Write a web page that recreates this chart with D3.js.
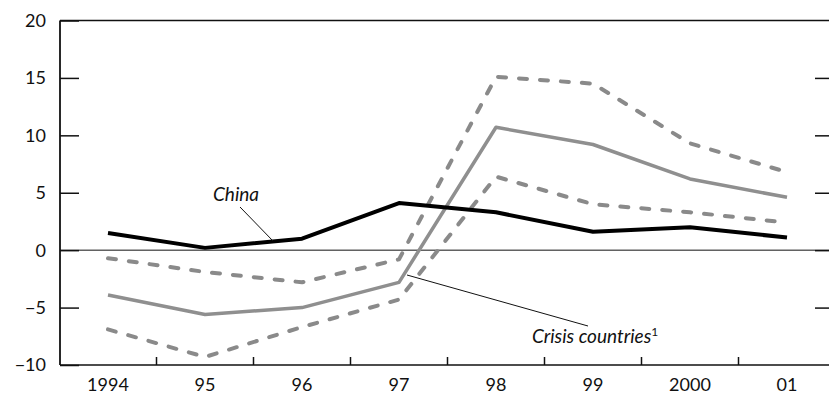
<!DOCTYPE html>
<html>
<head>
<meta charset="utf-8">
<script src="https://cdn.jsdelivr.net/npm/d3@7/dist/d3.min.js"></script>
<style>
  body { margin: 0; background: #fff; }
  svg text { font-family: Lato, "Open Sans", sans-serif; fill: #111; }
</style>
</head>
<body>
<svg id="chart" width="829" height="396"></svg>
<script>
var years = ["1994", "95", "96", "97", "98", "99", "2000", "01"];
var china = [1.5, 0.2, 1.0, 4.1, 3.3, 1.6, 2.0, 1.1];
var crisisMid = [-3.9, -5.6, -5.0, -2.8, 10.7, 9.2, 6.2, 4.6];
var crisisHigh = [-0.7, -1.9, -2.8, -0.8, 15.1, 14.5, 9.3, 6.8];
var crisisLow = [-6.9, -9.3, -6.7, -4.3, 6.4, 4.0, 3.3, 2.4];
var yTicks = [-10, -5, 0, 5, 10, 15, 20];

var margin = {top: 20.5, right: 0, bottom: 31, left: 60};
var width = 829, height = 396;
var svg = d3.select("#chart");

var x = d3.scalePoint()
  .domain(years)
  .range([108, 787]);
var y = d3.scaleLinear()
  .domain([-10, 20])
  .range([height - margin.bottom, margin.top]);

// frame
svg.append("line")
  .attr("x1", margin.left).attr("x2", width)
  .attr("y1", y(20)).attr("y2", y(20))
  .attr("stroke", "#111").attr("stroke-width", 1.5);
svg.append("line")
  .attr("x1", margin.left).attr("x2", width)
  .attr("y1", y(-10)).attr("y2", y(-10))
  .attr("stroke", "#111").attr("stroke-width", 1.5);
svg.append("line")
  .attr("x1", margin.left).attr("x2", margin.left)
  .attr("y1", y(20)).attr("y2", y(-10))
  .attr("stroke", "#111").attr("stroke-width", 1.8);
// zero line
svg.append("line")
  .attr("x1", margin.left).attr("x2", width)
  .attr("y1", y(0)).attr("y2", y(0))
  .attr("stroke", "#111").attr("stroke-width", 1);

// left axis with inward ticks
var yAxis = svg.append("g")
  .attr("transform", "translate(" + margin.left + ",0)")
  .call(d3.axisRight(y).tickValues(yTicks).tickSize(19).tickFormat(""));
yAxis.select(".domain").remove();
yAxis.selectAll("line").attr("stroke", "#111").attr("stroke-width", 1.5);
svg.append("g").selectAll("text")
  .data(yTicks)
  .enter().append("text")
  .attr("x", 46)
  .attr("y", function(d) { return y(d); })
  .attr("dy", "0.36em")
  .attr("text-anchor", "end")
  .attr("font-size", 18)
  .text(function(d) { return d < 0 ? "\u2212" + Math.abs(d) : d; });

// right axis ticks
var yRight = svg.append("g")
  .attr("transform", "translate(" + width + ",0)")
  .call(d3.axisLeft(y).tickValues(yTicks.slice(1, 6)).tickSize(14).tickFormat(""));
yRight.select(".domain").remove();
yRight.selectAll("line").attr("stroke", "#111").attr("stroke-width", 1.5);

// bottom ticks between years
var step = x.step();
var midTicks = years.slice(0, -1).map(function(d) { return x(d) + step / 2; });
svg.append("g").selectAll("line")
  .data(midTicks)
  .enter().append("line")
  .attr("x1", function(d) { return d; }).attr("x2", function(d) { return d; })
  .attr("y1", y(-10)).attr("y2", y(-10) - 8)
  .attr("stroke", "#111").attr("stroke-width", 1.5);
svg.append("g").selectAll("text")
  .data(years)
  .enter().append("text")
  .attr("x", function(d) { return x(d); })
  .attr("y", 391)
  .attr("text-anchor", "middle")
  .attr("font-size", 18)
  .text(function(d) { return d; });

var line = d3.line()
  .x(function(d, i) { return x(years[i]); })
  .y(function(d) { return y(d); });

// crisis band
[crisisHigh, crisisLow].forEach(function(s) {
  svg.append("path")
    .datum(s)
    .attr("d", line)
    .attr("fill", "none")
    .attr("stroke", "#8a8a8a")
    .attr("stroke-width", 4)
    .attr("stroke-dasharray", "8,13")
    .attr("stroke-linecap", "round")
    .attr("stroke-linejoin", "round");
});
svg.append("path")
  .datum(crisisMid)
  .attr("d", line)
  .attr("fill", "none")
  .attr("stroke", "#8f8f8f")
  .attr("stroke-width", 3.5)
  .attr("stroke-linejoin", "round");
svg.append("path")
  .datum(china)
  .attr("d", line)
  .attr("fill", "none")
  .attr("stroke", "#000")
  .attr("stroke-width", 4)
  .attr("stroke-linejoin", "round");

// labels and pointers
svg.append("text")
  .attr("x", 213).attr("y", 201)
  .attr("font-size", 19).attr("font-style", "italic")
  .text("China");
svg.append("line")
  .attr("x1", 240).attr("y1", 207).attr("x2", 273).attr("y2", 241)
  .attr("stroke", "#111").attr("stroke-width", 1);

var crisisLabel = svg.append("text")
  .attr("x", 532).attr("y", 343)
  .attr("font-size", 19).attr("font-style", "italic")
  .text("Crisis countries");
crisisLabel.append("tspan")
  .attr("font-style", "normal")
  .attr("font-size", 12)
  .attr("dy", -7)
  .text("1");
svg.append("line")
  .attr("x1", 407).attr("y1", 275).attr("x2", 588).attr("y2", 326)
  .attr("stroke", "#111").attr("stroke-width", 1);
</script>
</body>
</html>
